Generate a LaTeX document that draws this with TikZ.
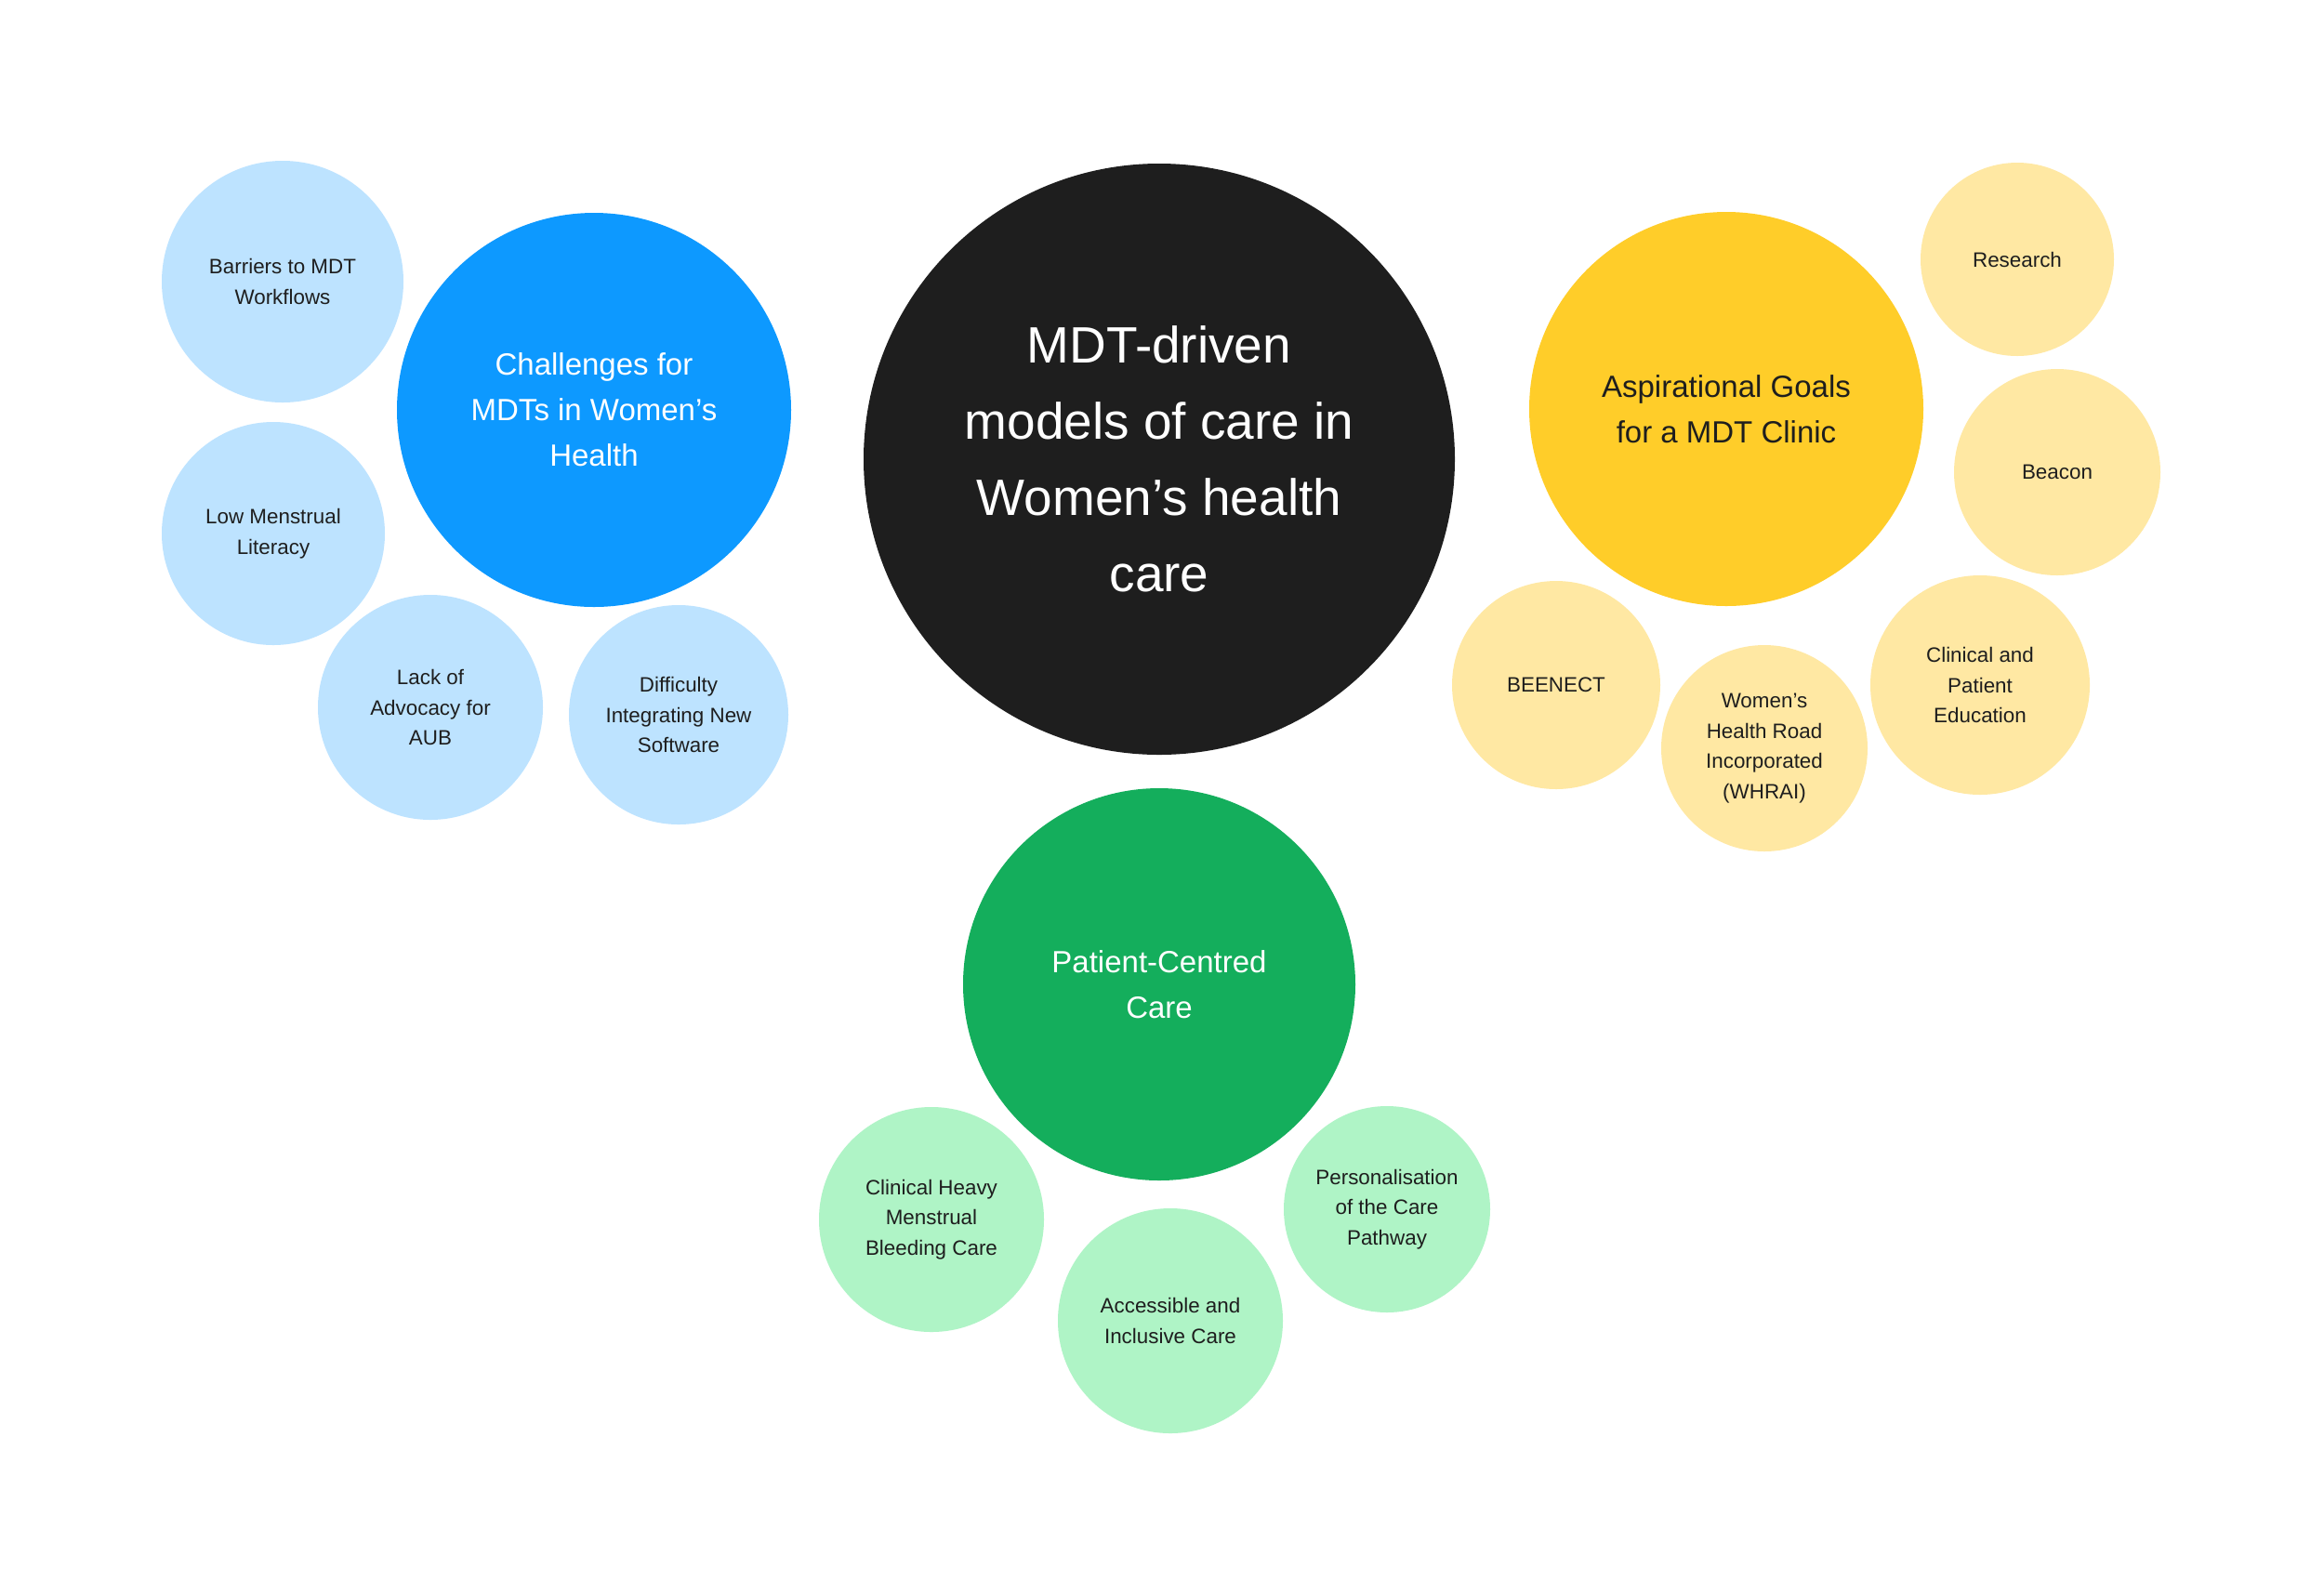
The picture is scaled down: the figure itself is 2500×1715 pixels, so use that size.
\documentclass[tikz,border=0pt]{standalone}
\usepackage{fontspec}
\setmainfont{Liberation Sans}
\definecolor{ink}{HTML}{1E1E1E}
\definecolor{blueM}{HTML}{0D99FF}
\definecolor{blueL}{HTML}{BDE3FF}
\definecolor{yelM}{HTML}{FFCD29}
\definecolor{yelL}{HTML}{FFE8A3}
\definecolor{grnM}{HTML}{14AE5C}
\definecolor{grnL}{HTML}{AFF4C6}
\tikzset{
  % #1 = radius in pixels of the 2500 px canvas (1 px = 0.5 pt), so diameter = #1 pt
  bub/.style={circle, inner sep=0pt, align=center, minimum size=#1pt},
  hub/.style={font=\fontsize{16.5}{24.5}\selectfont},
  leaf/.style={text=ink, font=\fontsize{11.2}{16.4}\selectfont},
}
\begin{document}
\begin{tikzpicture}[x=0.5pt,y=-0.5pt]
\useasboundingbox[fill=white] (0,0) rectangle (2500,1715);
% centre
\node[bub=318, fill=ink, text=white, font=\fontsize{27.5}{41}\selectfont] (main) at (1247,494)
  {MDT-driven\\models of care in\\Women’s health\\care};
% blue group
\node[bub=212, fill=blueM, text=white, hub] (ch) at (639,441) {Challenges for\\MDTs in Women’s\\Health};
\node[bub=130, fill=blueL, leaf] (b1) at (304,303) {Barriers to MDT\\Workflows};
\node[bub=120, fill=blueL, leaf] (b2) at (294,574) {Low Menstrual\\Literacy};
\node[bub=121, fill=blueL, leaf] (b3) at (463,761) {Lack of\\Advocacy for\\AUB};
\node[bub=118, fill=blueL, leaf] (b4) at (730,769) {Difficulty\\Integrating New\\Software};
% yellow group
\node[bub=212, fill=yelM, text=ink, hub] (ag) at (1857,440) {Aspirational Goals\\for a MDT Clinic};
\node[bub=104, fill=yelL, leaf] (y1) at (2170,279) {Research};
\node[bub=111, fill=yelL, leaf] (y2) at (2213,508) {Beacon};
\node[bub=118, fill=yelL, leaf] (y3) at (2130,737) {Clinical and\\Patient\\Education};
\node[bub=111, fill=yelL, leaf] (y4) at (1898,805) {Women’s\\Health Road\\Incorporated\\(WHRAI)};
\node[bub=112, fill=yelL, leaf] (y5) at (1674,737) {BEENECT};
% green group
\node[bub=211, fill=grnM, text=white, hub] (pc) at (1247,1059) {Patient-Centred\\Care};
\node[bub=121, fill=grnL, leaf] (g1) at (1002,1312) {Clinical Heavy\\Menstrual\\Bleeding Care};
\node[bub=121, fill=grnL, leaf] (g2) at (1259,1421) {Accessible and\\Inclusive Care};
\node[bub=111, fill=grnL, leaf] (g3) at (1492,1301) {Personalisation\\of the Care\\Pathway};
\end{tikzpicture}
\end{document}
